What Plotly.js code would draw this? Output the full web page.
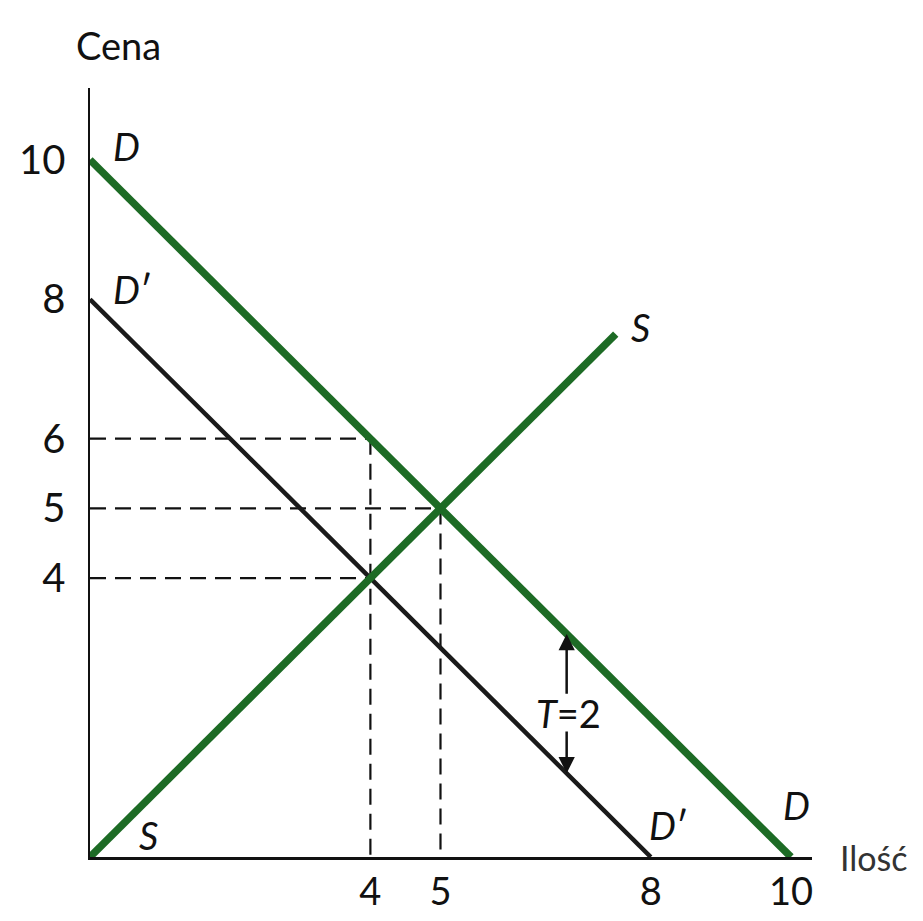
<!DOCTYPE html>
<html>
<head>
<meta charset="utf-8">
<script src="https://cdn.plot.ly/plotly-3.0.1.min.js"></script>
<style>
  html, body { margin: 0; padding: 0; background: #fff; }
  #tax_chart { width: 923px; height: 921px; }
</style>
</head>
<body>
<div id="tax_chart"></div>
<script>
// popyt przed podatkiem, popyt po podatku, podaz
const demand_x = [0, 10];
const demand_y = [10, 0];
const demand_tax_x = [0, 8];
const demand_tax_y = [8, 0];
const supply_x = [0, 7.5];
const supply_y = [0, 7.5];

// linie pomocnicze: ceny 6, 5, 4 i ilosci 4, 5
const guide_h_x = [[0, 4], [0, 5], [0, 4]];
const guide_h_y = [[6, 6], [5, 5], [4, 4]];
const guide_v_x = [[4, 4], [5, 5]];
const guide_v_y = [[6, 0], [5, 0]];

const x_ticks = [4, 5, 8, 10];
const y_ticks = [4, 5, 6, 8, 10];
const tax = 2;
const tax_at_x = 6.8;

const GREEN = '#1d6b25';
const FONT = 'Lato, "Open Sans", sans-serif';

document.addEventListener("DOMContentLoaded", () => {
    build_tax_chart();
})

const build_tax_chart = () => {
    const tax_chart = document.querySelector("#tax_chart");

    var data = [];
    guide_h_x.concat(guide_v_x).forEach((xs, i) => {
        const ys = guide_h_y.concat(guide_v_y)[i];
        data.push({
            x: xs, y: ys, mode: 'lines', type: 'scatter',
            line: {color: '#111', width: 2.2, dash: '16px,9px'},
            hoverinfo: 'skip'
        });
    });
    data.push({
        x: demand_tax_x, y: demand_tax_y, mode: 'lines', type: 'scatter',
        line: {color: '#1a1a1a', width: 4.5}
    });
    data.push({
        x: demand_x, y: demand_y, mode: 'lines', type: 'scatter',
        line: {color: GREEN, width: 7.5}
    });
    data.push({
        x: supply_x, y: supply_y, mode: 'lines', type: 'scatter',
        line: {color: GREEN, width: 7.5}
    });

    // wysokosc linii D i D' w miejscu strzalek
    const d_top = demand_y[0] - tax_at_x;
    const d_bottom = demand_tax_y[0] - tax_at_x;
    const mid = (d_top + d_bottom) / 2;

    const label = (text, x, y, size, extra) => Object.assign({
        text: text, x: x, y: y, xref: 'x', yref: 'y', showarrow: false,
        xanchor: 'center', yanchor: 'middle',
        font: {family: FONT, size: size || 38, color: '#111'}
    }, extra || {});

    const arrow = (y_head, y_tail) => ({
        x: tax_at_x, y: y_head, ax: tax_at_x, ay: y_tail,
        xref: 'x', yref: 'y', axref: 'x', ayref: 'y', text: '',
        showarrow: true, arrowhead: 2, arrowsize: 1.3, arrowwidth: 2.5, arrowcolor: '#111'
    });

    var annotations = [
        label('Cena', 0.039, 1.056, 38, {xref: 'paper', yref: 'paper'}),
        label('Ilość', 1.036, 0, 34, {xref: 'paper', yref: 'paper', xanchor: 'left',
            font: {family: FONT, size: 34, color: '#333'}}),
        label('<i>D</i>', 0.52, 10.2),
        label('<i>D</i>′', 0.6, 8.15),
        label('<i>S</i>', 7.85, 7.6),
        label('<i>S</i>', 0.83, 0.32),
        label('<i>D</i>′', 8.25, 0.46),
        label('<i>D</i>', 10.08, 0.75),
        label('<i>T</i>=' + tax, tax_at_x + 0.02, mid - 0.13, 38),
        arrow(d_top, mid + 0.12),
        arrow(d_bottom, mid - 0.38)
    ];

    var layout = {
        width: 923,
        height: 921,
        margin: {l: 90, r: 111, t: 88, b: 64},
        showlegend: false,
        paper_bgcolor: '#fff',
        plot_bgcolor: '#fff',
        font: {family: FONT, color: '#111'},
        xaxis: {
            range: [0, 10.3], tickvals: x_ticks, ticks: '', showgrid: false,
            zeroline: false, showline: true, linecolor: '#111', linewidth: 2.5,
            tickfont: {family: FONT, size: 38, color: '#111'}, ticklabelstandoff: 0
        },
        yaxis: {
            range: [0, 11.03], tickvals: y_ticks, ticks: '', showgrid: false,
            zeroline: false, showline: true, linecolor: '#111', linewidth: 2.5,
            tickfont: {family: FONT, size: 40, color: '#111'}, ticklabelstandoff: 14
        },
        annotations: annotations
    };

    Plotly.newPlot(tax_chart, data, layout, {displayModeBar: false, staticPlot: true});
}
</script>
</body>
</html>
